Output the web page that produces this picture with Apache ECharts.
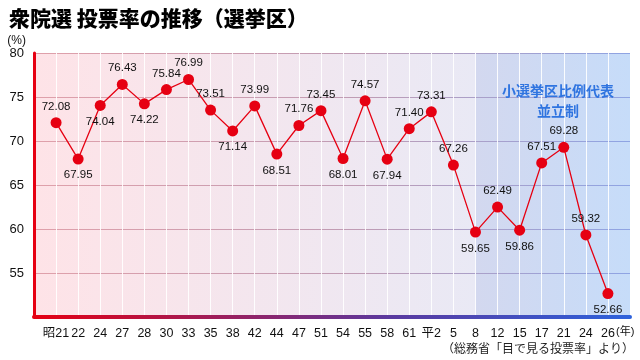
<!DOCTYPE html>
<html><head><meta charset="utf-8">
<script src="https://cdn.jsdelivr.net/npm/echarts@6/dist/echarts.min.js"></script>
<style>html,body{margin:0;padding:0;background:#fff}#c{width:640px;height:360px}</style>
</head><body><div id="c"></div>
<script>
var categories = ['昭21','22','24','27','28','30','33','35','38','42','44','47','51','54','55','58','61','平2','5','8','12','15','17','21','24','26'];
var turnout = [72.08,67.95,74.04,76.43,74.22,75.84,76.99,73.51,71.14,73.99,68.51,71.76,73.45,68.01,74.57,67.94,71.40,73.31,67.26,59.65,62.49,59.86,67.51,69.28,59.32,52.66];
var labelPos = ['top','bottom','bottom','top','bottom','top','top','top','bottom','top','bottom','top','top','bottom','top','bottom','top','top','top','bottom','top','bottom','top','top','top','bottom'];
var yTicks = [55,60,65,70,75,80];
var newSystemStart = 19; // 平8
var FONT = '"Liberation Sans","Noto Sans CJK JP",sans-serif';
var xmin = -1, xmax = categories.length;
var stop = (newSystemStart - xmin) / (xmax - xmin);

var chart = echarts.init(document.getElementById('c'));
var LG = echarts.graphic.LinearGradient;
chart.setOption({
  animation: false,
  title: [{
    text: '衆院選 投票率の推移（選挙区）', left: 4, top: 3,
    textStyle: {fontSize: 21, fontWeight: 900, color: '#000', fontFamily: '"Noto Sans CJK JP",sans-serif'}
  }, {
    text: '小選挙区比例代表\n並立制', left: 553, top: 76, textAlign: 'center',
    textStyle: {fontSize: 14, fontWeight: 'bold', color: '#2f74e0', lineHeight: 20, fontFamily: '"Noto Sans CJK JP",sans-serif'}
  }],
  graphic: [{
    type: 'text', right: 6, top: 342,
    style: {text: '（総務省「目で見る投票率」より）', fill: '#222', font: '12px "Noto Sans CJK JP",sans-serif'}
  }, {
    type: 'text', left: 616, top: 326,
    style: {text: '(年)', fill: '#111', font: '11px "Liberation Sans","Noto Sans CJK JP",sans-serif'}
  }],
  grid: {
    left: 34, right: 10, top: 53, bottom: 43, show: true, borderWidth: 0,
    backgroundColor: new LG(0, 0, 1, 0, [
      {offset: 0, color: '#fee3e7'},
      {offset: stop - 0.0001, color: '#e9e9f5'},
      {offset: stop, color: '#d3d8ef'},
      {offset: 1, color: '#c6dcf9'}
    ])
  },
  xAxis: {
    type: 'value', min: xmin, max: xmax, interval: 1,
    axisLine: {show: true, onZero: false, lineStyle: {width: 4, color: new LG(0, 0, 1, 0, [
      {offset: 0, color: '#e60012'}, {offset: 0.6, color: '#5a3aa0'}, {offset: 1, color: '#2d62dc'}])}},
    axisTick: {show: false},
    splitLine: {show: true, lineStyle: {color: 'rgba(255,255,255,0.9)', width: 1}},
    axisLabel: {
      margin: 10, color: '#111', fontSize: 12.5, fontFamily: FONT,
      formatter: function (v) { return categories[v] !== undefined ? categories[v] : ''; }
    }
  },
  yAxis: {
    type: 'value', min: 50, max: 80, interval: 5,
    name: '(%)', nameLocation: 'end', nameGap: 6,
    nameTextStyle: {align: 'right', padding: [0, 8, 0, 0], color: '#111', fontSize: 12, fontFamily: FONT},
    axisLine: {show: true, onZero: false, lineStyle: {width: 3, color: '#e60012'}},
    axisTick: {show: false},
    axisLabel: {
      margin: 10, color: '#111', fontSize: 13, fontFamily: FONT,
      formatter: function (v) { return yTicks.indexOf(v) >= 0 ? String(v) : ''; }
    },
    splitLine: {show: true, lineStyle: {width: 1, color: new LG(0, 0, 1, 0, [
      {offset: 0, color: '#e0a0aa'}, {offset: 0.55, color: '#bf9cb4'}, {offset: 1, color: '#8ea4e4'}])}}
  },
  series: [{
    type: 'line',
    data: turnout.map(function (v, i) {
      return {value: [i, v], label: {position: labelPos[i]}};
    }),
    lineStyle: {color: '#e60012', width: 1.3},
    itemStyle: {color: '#e60012'},
    symbol: 'circle', symbolSize: 11,
    label: {
      show: true, distance: 5, color: '#111', fontSize: 11.5, fontFamily: FONT,
      formatter: function (p) { return p.value[1].toFixed(2); }
    },
    z: 5
  }]
});
</script></body></html>
